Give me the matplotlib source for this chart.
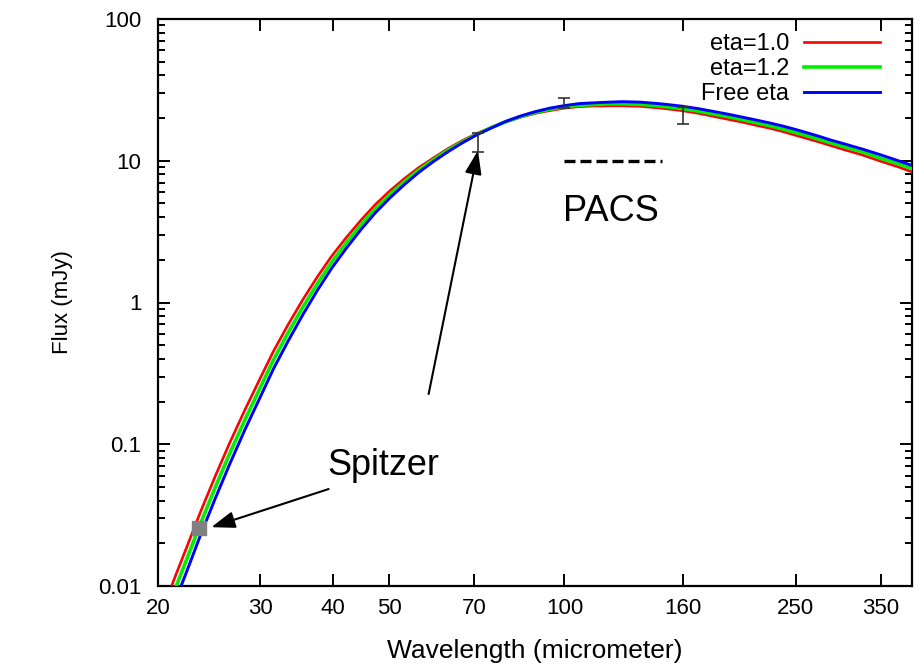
import matplotlib
matplotlib.use("Agg")
import matplotlib.pyplot as plt
from matplotlib.ticker import FixedLocator, NullFormatter, LogLocator, NullLocator

plt.rcParams['font.family'] = ['Liberation Sans', 'DejaVu Sans']

# ---- data ----
wavelength = [21.0, 21.5, 22.4, 23.7, 25.1, 26.6, 28.2, 29.9, 31.6, 33.5, 35.5, 37.6, 39.8,
              42.2, 44.7, 47.3, 50.1, 53.1, 56.2, 59.6, 63.1, 66.8, 70.8, 75.0, 79.4, 84.1,
              89.1, 94.4, 100, 106, 112, 119, 126, 135, 145, 152, 160, 170, 180, 190, 200,
              212, 225, 237, 250, 262, 275, 287, 300, 325, 350, 375, 400]
flux_eta10 = [0.00948, 0.0122, 0.0187, 0.0338, 0.0598, 0.1035, 0.174, 0.286, 0.454, 0.701,
              1.05, 1.52, 2.13, 2.89, 3.82, 4.91, 6.14, 7.50, 8.97, 10.5, 12.2, 13.9, 15.6,
              17.2, 18.8, 20.3, 21.6, 22.6, 23.5, 24.1, 24.3, 24.4, 24.4, 24.2, 23.6, 23.1,
              22.5, 21.6, 20.6, 19.7, 18.9, 17.9, 17.0, 16.1, 15.1, 14.3, 13.5, 12.8, 12.1,
              11.0, 9.91, 9.05, 8.22]
flux_eta12 = [0.00774, 0.0100, 0.0154, 0.0280, 0.0499, 0.0871, 0.148, 0.245, 0.394, 0.614,
              0.929, 1.36, 1.93, 2.65, 3.54, 4.59, 5.79, 7.14, 8.62, 10.2, 11.9, 13.6, 15.4,
              17.2, 18.9, 20.5, 21.9, 23.1, 24.0, 24.6, 24.9, 25.2, 25.2, 25.0, 24.4, 23.9,
              23.3, 22.4, 21.4, 20.6, 19.7, 18.7, 17.7, 16.8, 15.8, 15.0, 14.1, 13.4, 12.7,
              11.6, 10.4, 9.53, 8.67]
flux_free = [0.00632, 0.00818, 0.0126, 0.0232, 0.0416, 0.0733, 0.126, 0.210, 0.341, 0.537,
             0.822, 1.22, 1.75, 2.43, 3.28, 4.30, 5.47, 6.81, 8.29, 9.91, 11.6, 13.4, 15.3,
             17.1, 19.0, 20.7, 22.2, 23.5, 24.5, 25.3, 25.6, 25.9, 26.1, 25.9, 25.3, 24.8,
             24.2, 23.3, 22.3, 21.4, 20.5, 19.5, 18.5, 17.6, 16.6, 15.7, 14.8, 14.0, 13.3,
             12.1, 11.0, 10.0, 9.14]

pacs_wl = [71, 100, 160]
pacs_flux = [13.5, 25.3, 21.1]
pacs_err_lo = [1.9, 1.7, 2.9]
pacs_err_hi = [2.2, 2.2, 2.9]

spitzer_wl = [23.5]
spitzer_flux = [0.0255]

xticks = [20, 30, 40, 50, 70, 100, 160, 250, 350]
yticks = [0.01, 0.1, 1, 10, 100]
ytick_labels = ['0.01', '0.1', '1', '10', '100']

# annotation anchors (data coordinates)
pacs_bar_x = [100, 147]
pacs_bar_y = [10, 10]

# ---- figure ----
fig = plt.figure(figsize=(9.23, 6.66), dpi=100)
ax = fig.add_axes([158/923, 1-586/666, (912-158)/923, (586-19)/666])

ax.plot(wavelength, flux_eta10, color='#ff0000', lw=1.9, label='eta=1.0', zorder=3)
ax.plot(wavelength, flux_eta12, color='#00ee00', lw=2.6, label='eta=1.2', zorder=4)
ax.plot(wavelength, flux_free, color='#0000ff', lw=2.1, label='Free eta', zorder=5)

ax.errorbar(pacs_wl, pacs_flux, yerr=[pacs_err_lo, pacs_err_hi], fmt='none',
            ecolor='#333333', elinewidth=1.2, capsize=4, capthick=1.2, zorder=6)
ax.plot(spitzer_wl, spitzer_flux, marker='s', ms=10, color='#808080', ls='none', zorder=7)

ax.set_xscale('log')
ax.set_yscale('log')
ax.set_xlim(20, 396)
ax.set_ylim(0.01, 100)

ax.xaxis.set_major_locator(FixedLocator(xticks))
ax.set_xticklabels([str(t) for t in xticks])
ax.xaxis.set_minor_locator(NullLocator())
ax.set_yticks(yticks)
ax.set_yticklabels(ytick_labels)
ax.yaxis.set_minor_locator(LogLocator(base=10, subs=range(2, 10)))
ax.yaxis.set_minor_formatter(NullFormatter())

ax.tick_params(which='both', direction='in', top=True, right=True, width=1.4)
ax.tick_params(which='major', length=8.5, labelsize=16)
ax.tick_params(axis='x', which='major', pad=9)
ax.tick_params(axis='y', which='major', pad=12)
ax.tick_params(which='minor', length=5)
for s in ax.spines.values():
    s.set_linewidth(1.6)

ax.set_xlabel('Wavelength (micrometer)', fontsize=19, labelpad=14)
ax.set_ylabel('Flux (mJy)', fontsize=16, labelpad=18)

# PACS marker line and labels
ax.plot(pacs_bar_x, pacs_bar_y, color='black', lw=2.4, ls=(0, (3.3, 1.5)), zorder=2)
ax.text(120, 4.4, 'PACS', fontsize=26, ha='center', va='center')
ax.text(48.9, 0.0703, 'Spitzer', fontsize=26, ha='center', va='center')

arrow = dict(arrowstyle='-|>,head_length=0.9,head_width=0.32', color='black', lw=1.5,
             shrinkA=0, shrinkB=0, mutation_scale=16)
ax.annotate('', xy=(24.7, 0.026), xytext=(39.3, 0.0483), arrowprops=arrow, zorder=8)
ax.annotate('', xy=(71, 11.8), xytext=(58.4, 0.226), arrowprops=arrow, zorder=8)

ax.legend(loc='upper right', bbox_to_anchor=(0.9576, 0.975), frameon=False,
          markerfirst=False, fontsize=17, handlelength=3.2, handletextpad=0.64,
          borderpad=0, borderaxespad=0, labelspacing=0.12)

fig.savefig('out.png', dpi=100)
